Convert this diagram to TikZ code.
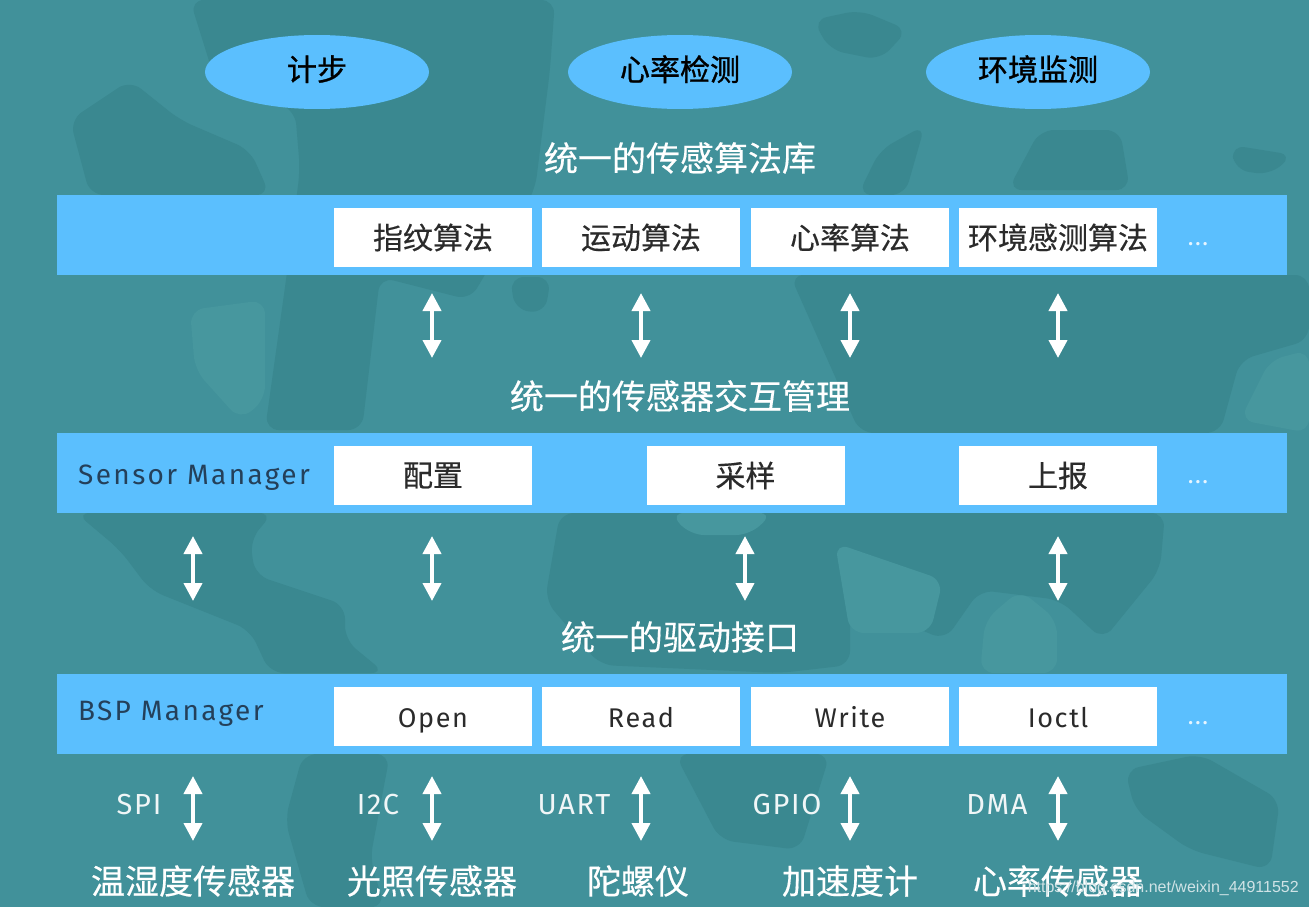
\documentclass[tikz,border=0pt]{standalone}
\usepackage{fontspec}
\setmainfont{Noto Sans CJK SC}[FakeBold=0.35]
\newfontfamily\heavycjk{Noto Sans CJK SC}[FakeBold=1]
\newfontfamily\latinfont{Fira Sans}[LetterSpace=6]
\newfontfamily\widelatin{Fira Sans}[LetterSpace=8.5]
\newfontfamily\markfont{Liberation Sans}
\usetikzlibrary{arrows.meta,shapes.geometric}
\definecolor{bgteal}{HTML}{41919A}
\definecolor{mapteal}{HTML}{3A8890}
\definecolor{lightteal}{HTML}{47979E}
\definecolor{barblue}{HTML}{5BBFFE}
\definecolor{inktext}{HTML}{2B2B2B}
\definecolor{navytext}{HTML}{24405A}
\tikzset{
  barbox/.style={fill=barblue,minimum width=1230pt,minimum height=80pt,inner sep=0pt},
  cellbox/.style={fill=white,minimum width=198pt,minimum height=59pt,inner sep=0pt,text=inktext,font=\fontsize{30}{30}\selectfont},
  opbox/.style={cellbox,text height=27pt,text depth=6pt,font=\latinfont\fontsize{27}{27}\selectfont},
  appoval/.style={ellipse,fill=barblue,minimum width=224pt,minimum height=74pt,inner sep=0pt,text depth=8pt,font=\heavycjk\fontsize{30}{30}\selectfont},
  headline/.style={text=white,inner sep=0pt,font=\fontsize{34}{34}\selectfont},
  sensorname/.style={text=white,inner sep=0pt,font=\fontsize{34}{34}\selectfont},
  barlabel/.style={inner sep=0pt,anchor=west,text=navytext,font=\widelatin\fontsize{28}{28}\selectfont},
  buslabel/.style={inner sep=0pt,text=white!92!bgteal,font=\latinfont\fontsize{29}{29}\selectfont},
  moredots/.style={inner sep=0pt,text=white!85!barblue,font=\latinfont\fontsize{24}{24}\selectfont},
  duplex/.style={white,line width=4pt,{Triangle[length=18pt,width=18pt]}-{Triangle[length=18pt,width=18pt]}},
  mapland/.style={fill=mapteal,draw=none,rounded corners=14pt},
  mapshoal/.style={fill=lightteal,draw=none,rounded corners=14pt},
}
\begin{document}
\begin{tikzpicture}[x=1pt,y=-1pt]
\useasboundingbox (0,0) rectangle (1309,907);
\fill[bgteal] (0,0) rectangle (1309,907);

% world map
\fill[mapland] (190,0) -- (555,0) -- (550,70) -- (535,190) -- (470,300) -- (380,277) -- (362,430) -- (265,430) -- (286,280) -- (300,170) -- (295,110) -- (215,80) -- cycle;
\fill[mapland] (70,120) -- (130,80) -- (180,120) -- (250,150) -- (270,195) -- (90,195) -- cycle;
\fill[mapland] (510,277) -- (551,277) -- (545,313) -- (515,310) -- cycle;
\fill[mapland] (76,513) -- (273,513) -- (250,540) -- (255,575) -- (345,605) -- (345,640) -- (385,673) -- (270,673) -- (250,630) -- (150,590) -- (120,550) -- cycle;
\fill[mapland] (560,513) -- (1165,513) -- (1160,570) -- (1103,640) -- (1060,600) -- (980,590) -- (945,640) -- (850,600) -- (850,665) -- (780,673) -- (600,665) -- (545,600) -- cycle;
\fill[mapland] (813,20) -- (860,10) -- (908,30) -- (880,60) -- (830,50) -- cycle;
\fill[mapland] (1008,190) -- (1040,130) -- (1120,130) -- (1130,190) -- cycle;
\fill[mapland] (858,195) -- (880,150) -- (925,125) -- (905,195) -- cycle;
\fill[mapland] (1231,145) -- (1293,155) -- (1270,175) -- (1235,170) -- cycle;
\fill[mapland] (790,275) -- (1309,275) -- (1309,340) -- (1240,360) -- (1220,433) -- (860,433) -- cycle;
\fill[mapland] (1125,770) -- (1200,754) -- (1280,800) -- (1270,870) -- (1190,850) -- (1135,810) -- cycle;
\fill[mapland] (675,754) -- (830,754) -- (800,850) -- (720,840) -- cycle;
\fill[mapland] (303,754) -- (390,754) -- (370,860) -- (385,907) -- (310,907) -- (285,820) -- cycle;
\fill[mapshoal] (190,310) -- (265,300) -- (265,400) -- (240,420) -- (195,370) -- cycle;
\fill[mapshoal] (670,513) -- (773,513) -- (750,535) -- (690,535) -- cycle;
\fill[mapshoal] (835,543) -- (943,580) -- (930,633) -- (850,633) -- cycle;
\fill[mapshoal] (985,620) -- (1020,590) -- (1057,620) -- (1057,673) -- (980,673) -- cycle;
\fill[mapshoal] (1240,420) -- (1270,360) -- (1309,350) -- (1309,433) -- cycle;

\node[appoval] (stepcount) at (317,72) {计步};
\node[appoval] (heartcheck) at (680,72) {心率检测};
\node[appoval] (envcheck) at (1038,72) {环境监测};

\node[headline] (algotitle) at (680,158) {统一的传感算法库};
\node[headline] (mgrtitle) at (680,396) {统一的传感器交互管理};
\node[headline] (drvtitle) at (680,637) {统一的驱动接口};

\node[barbox] (algobar) at (672,235) {};
\node[barbox] (mgrbar) at (672,473) {};
\node[barbox] (bspbar) at (672,714) {};

\foreach \name/\x/\txt in {fingerprint/433/指纹算法,motion/641/运动算法,heart/850/心率算法,env/1058/环境感测算法}
  \node[cellbox] (\name) at (\x,237.5) {\txt};
\foreach \name/\x/\txt in {config/433/配置,sample/745.5/采样,report/1058/上报}
  \node[cellbox] (\name) at (\x,475.5) {\txt};
\foreach \name/\x/\txt in {open/433/Open,read/641/Read,write/850/Write,ioctl/1058/Ioctl}
  \node[opbox] (\name) at (\x,716.5) {\txt};

\node[barlabel] (mgrlabel) at (78,478) {Sensor Manager};
\node[barlabel] (bsplabel) at (78,714) {BSP Manager};
\foreach \name/\y in {algodots/244,mgrdots/482,bspdots/723}
  \node[moredots] (\name) at (1198,\y) {...};

% double arrows
\foreach \name/\x in {a/432,b/641,c/850,d/1058} {
  \coordinate (up\name) at (\x,293);
  \coordinate (dn\name) at (\x,358);
  \draw[duplex] (up\name) -- (dn\name);
}
\foreach \name/\x in {e/193,f/432,g/745,h/1058} {
  \coordinate (up\name) at (\x,536);
  \coordinate (dn\name) at (\x,601);
  \draw[duplex] (up\name) -- (dn\name);
}
\foreach \name/\x in {i/193,j/432,k/641,l/850,m/1058} {
  \coordinate (up\name) at (\x,776);
  \coordinate (dn\name) at (\x,841);
  \draw[duplex] (up\name) -- (dn\name);
}

\foreach \name/\x/\txt in {spi/139/SPI,itwoc/378/I2C,uart/574/UART,gpio/787/GPIO,dma/997/DMA}
  \node[buslabel] (\name) at (\x,805) {\txt};

\foreach \name/\x/\txt in {humid/193/温湿度传感器,light/432/光照传感器,gyro/638/陀螺仪,accel/850/加速度计,pulse/1058/心率传感器}
  \node[sensorname] (\name) at (\x,881) {\txt};

\node[inner sep=0pt,anchor=east,text=white!75!bgteal,font=\markfont\fontsize{16}{16}\selectfont] (watermark) at (1299,888) {https://blog.csdn.net/weixin\_44911552};
\end{tikzpicture}
\end{document}
